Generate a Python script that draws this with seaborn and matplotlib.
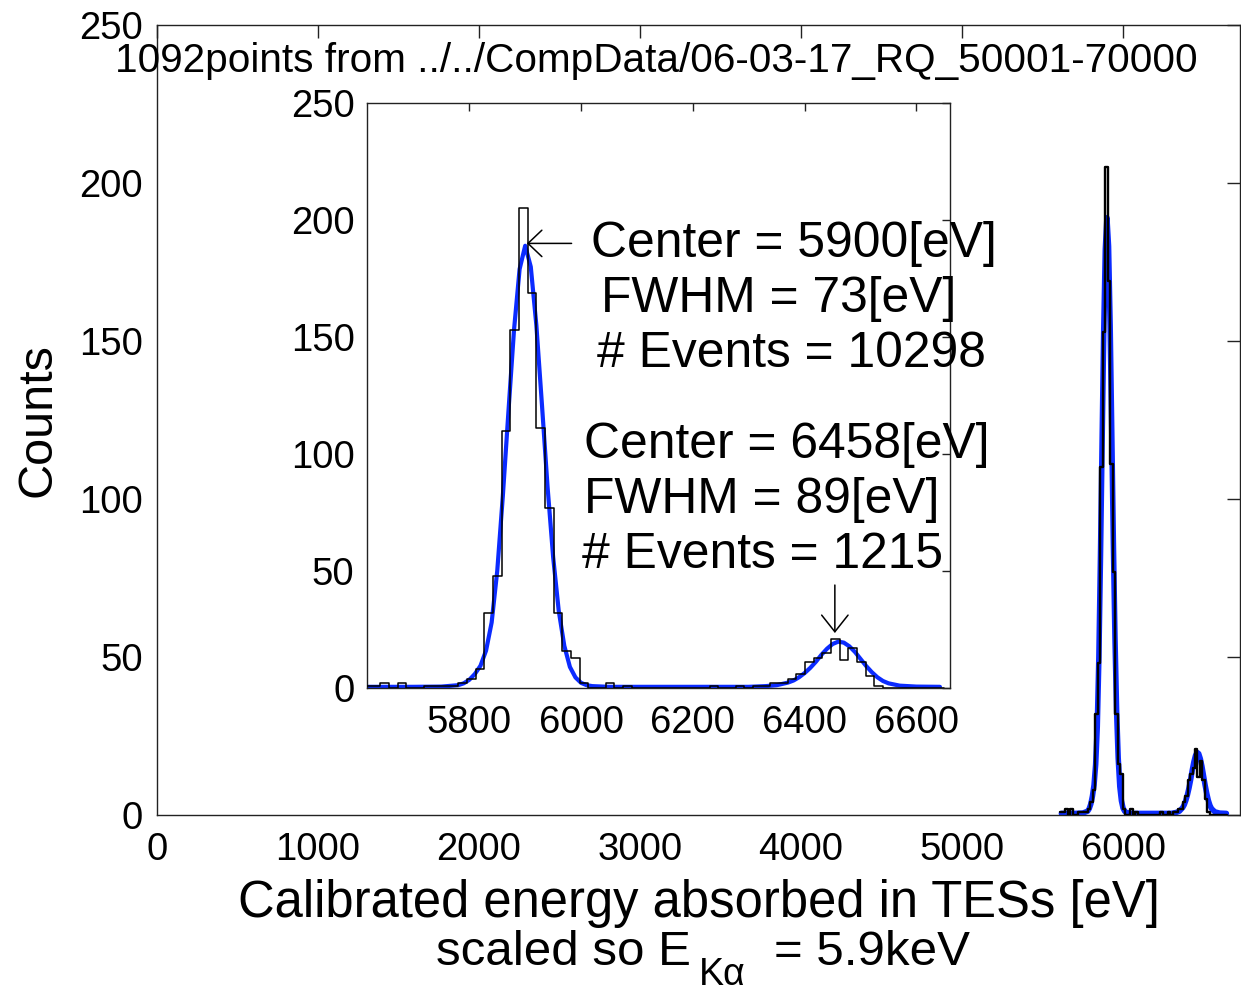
import numpy as np
import pandas as pd
import matplotlib
matplotlib.use("Agg")
import matplotlib.pyplot as plt
import seaborn as sns

# histogram of calibrated energies: 67 bins of 15.5 eV starting at 5610 eV
bin_start = 5610.0
bin_width = 15.5
counts = [1, 1, 2, 0, 2, 0, 0, 1, 1, 1,
          1, 2, 4, 8, 32, 48, 110, 153, 205, 169,
          111, 77, 32, 16, 13, 2, 0, 0, 2, 0,
          1, 0, 0, 0, 0, 0, 0, 0, 0, 0,
          1, 0, 0, 1, 0, 1, 1, 2, 2, 4,
          6, 11, 13, 15, 21, 12, 17, 11, 5, 1,
          0, 0, 0, 0, 0, 0, 0]

# gaussian fit curve (blue)
fit_energy = [5617, 5650, 5700, 5750, 5780, 5790, 5800, 5810, 5820, 5830,
              5840, 5850, 5860, 5870, 5880, 5890, 5900, 5910, 5920, 5930,
              5940, 5950, 5960, 5970, 5980, 5990, 6000, 6010, 6020, 6050,
              6100, 6150, 6200, 6250, 6300, 6330, 6350, 6370, 6380, 6390,
              6400, 6410, 6420, 6430, 6440, 6450, 6460, 6470, 6480, 6490,
              6500, 6510, 6520, 6530, 6540, 6550, 6570, 6600, 6642]
fit_counts = [0.5, 0.5, 0.5, 0.6, 1.2, 2.0, 3.5, 6.0, 9.5, 16,
              28, 50, 82, 118, 153, 179, 189, 180, 155, 121,
              86, 56, 33, 18, 9.0, 4.5, 2.2, 1.2, 0.8, 0.5,
              0.5, 0.5, 0.5, 0.5, 0.5, 0.8, 1.2, 2.3, 3.2, 4.6,
              6.4, 8.6, 11.2, 14.2, 16.8, 18.8, 19.8, 19.4, 17.8, 15.4,
              12.4, 9.4, 6.8, 4.6, 3.0, 2.0, 1.0, 0.6, 0.5]

title = "1092points from ../../CompData/06-03-17_RQ_50001-70000"
peak1_lines = ["Center = 5900[eV]", "FWHM = 73[eV]", "# Events = 10298"]
peak2_lines = ["Center = 6458[eV]", "FWHM = 89[eV]", "# Events = 1215"]

sns.set_theme(style="white")
plt.rcParams["font.family"] = ["Liberation Sans", "DejaVu Sans"]
plt.rcParams["text.color"] = "black"
plt.rcParams["axes.labelcolor"] = "black"

blue = "#0b2bff"
hist_df = pd.DataFrame({
    "energy": bin_start + bin_width * (np.arange(len(counts)) + 0.5),
    "n": counts,
})
fit_df = pd.DataFrame({"energy": fit_energy, "fit": fit_counts})
bin_range = (bin_start, bin_start + bin_width * len(counts))

W, H = 1241, 994
fig = plt.figure(figsize=(W / 100, H / 100), dpi=100)
fig.patch.set_facecolor("white")


def fx(px):
    return px / W


def fy(py):
    return 1 - py / H


def style_axes(ax, size, ticklen, padx, pady):
    for s in ax.spines.values():
        s.set_color("#222222")
        s.set_linewidth(1.0)
        s.set_visible(True)
    ax.tick_params(direction="in", top=True, right=True, length=ticklen,
                   width=1.0, color="#222222", labelsize=size, labelcolor="black")
    ax.tick_params(axis="x", pad=padx)
    ax.tick_params(axis="y", pad=pady)
    ax.set_facecolor("white")
    ax.grid(False)


def draw_spectrum(ax, fit_lw, hist_lw):
    sns.lineplot(data=fit_df, x="energy", y="fit", ax=ax, color=blue,
                 linewidth=fit_lw, zorder=2)
    sns.histplot(data=hist_df, x="energy", weights="n", binwidth=bin_width,
                 binrange=bin_range, element="step", fill=False,
                 color="black", linewidth=hist_lw, ax=ax, zorder=3)
    ax.set_xlabel("")
    ax.set_ylabel("")


# main axes
ax = fig.add_axes([fx(157), fy(815), fx(1241 - 157) - 0.001, (815 - 25) / H])
draw_spectrum(ax, 4.0, 1.7)
ax.set_xlim(0, 6725)
ax.set_ylim(0, 250)
ax.set_xticks(np.arange(0, 6001, 1000))
ax.set_yticks(np.arange(0, 251, 50))
ax.set_ylabel("Counts", fontsize=35, va="center")
ax.yaxis.set_label_coords(-(157 - 38) / (1241 - 157), 0.5)
style_axes(ax, 27.5, 9.5, 12, 10)

# inset axes
ins = fig.add_axes([fx(367), fy(688), (950 - 367) / W, (688 - 103) / H])
draw_spectrum(ins, 3.0, 1.1)
ins.set_xlim(5617, 6660)
ins.set_ylim(0, 250)
ins.set_xticks(np.arange(5800, 6601, 200))
ins.set_yticks(np.arange(0, 251, 50))
style_axes(ins, 27.5, 6, 12, 9)

# arrows pointing to the fitted peaks
ins.annotate("", xy=(5903, 190), xytext=(5983, 190),
             arrowprops=dict(arrowstyle="->,head_length=0.4,head_width=0.38",
                             color="black", lw=1.1, mutation_scale=25,
                             shrinkA=0, shrinkB=0), zorder=5)
ins.annotate("", xy=(6454, 23.5), xytext=(6454, 44),
             arrowprops=dict(arrowstyle="->,head_length=0.48,head_width=0.38",
                             color="black", lw=1.1, mutation_scale=25,
                             shrinkA=0, shrinkB=0), zorder=5)

# fit result texts
for txt, (px, py) in zip(peak1_lines, [(591, 257), (601, 312), (597, 367)]):
    fig.text(fx(px), fy(py), txt, fontsize=35.8, ha="left", va="baseline")
for txt, (px, py) in zip(peak2_lines, [(584, 458), (584, 513), (582, 568)]):
    fig.text(fx(px), fy(py), txt, fontsize=35.8, ha="left", va="baseline")

# title and x label
fig.text(fx(115), fy(72), title, fontsize=29.2, ha="left", va="baseline")
fig.text(fx(699), fy(917), "Calibrated energy absorbed in TESs [eV]",
         fontsize=36.5, ha="center", va="baseline")
fig.text(fx(691), fy(965), "scaled so E", fontsize=35.5, ha="right", va="baseline")
fig.text(fx(699), fy(985), "K\u03b1", fontsize=27, ha="left", va="baseline")
fig.text(fx(774), fy(965), "= 5.9keV", fontsize=35.5, ha="left", va="baseline")

fig.savefig("out.png", dpi=100, facecolor="white")
